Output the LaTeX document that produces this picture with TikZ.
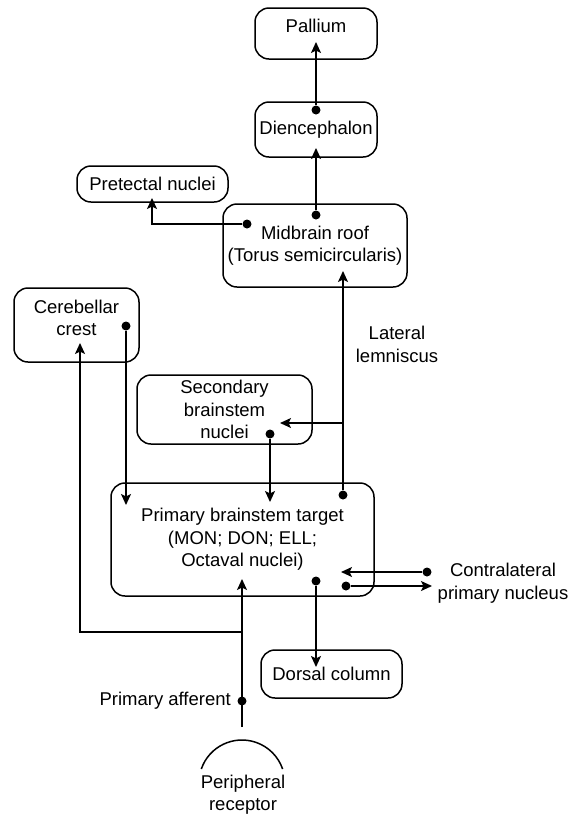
\documentclass[tikz,border=0pt]{standalone}
\usepackage{fontspec}
\setmainfont{Liberation Sans}
\usetikzlibrary{arrows.meta}
\tikzset{
  box/.style={draw, rounded corners=14pt, line width=1.5pt, align=center, inner sep=2pt},
  dot/.style={circle, fill, inner sep=0pt, minimum size=9pt},
  conn/.style={line width=1.6pt, -{Stealth[length=11pt,width=10pt,inset=2.5pt]}},
  lbl/.style={align=center, inner sep=0pt}
}
\begin{document}
\begin{tikzpicture}[x=1pt, y=-1pt, font=\fontsize{18.5}{22.5}\selectfont]
  \useasboundingbox (0,0) rectangle (578,815);
  \node[box, minimum width=122, minimum height=51, text depth=16pt] (pallium) at (316,33.5) {Pallium};
  \node[box, minimum width=122, minimum height=55] (dien) at (316,129.5) {Diencephalon};
  \node[box, minimum width=151, minimum height=36] (pretect) at (152.5,184) {Pretectal nuclei};
  \node[box, minimum width=184, minimum height=83] (midbrain) at (315,245.5) {Midbrain roof\\(Torus semicircularis)};
  \node[box, minimum width=125, minimum height=74, text depth=14pt] (cereb) at (76.5,325) {Cerebellar\\crest};
  \node[box, minimum width=175, minimum height=69] (second) at (224.5,409.5) {Secondary\\brainstem\\nuclei};
  \node[box, minimum width=263, minimum height=113] (primary) at (242.5,539.5) {Primary brainstem target\\(MON; DON; ELL;\\Octaval nuclei)};
  \node[box, minimum width=141, minimum height=48] (dorsal) at (331.5,674) {Dorsal column};
  \node[lbl] (lateral) at (397,344.5) {Lateral\\lemniscus};
  \node[lbl] (contra) at (503,583) {Contralateral\\primary nucleus};
  \node[lbl, anchor=east] (afferent) at (231,701) {Primary afferent};
  \node[lbl] (receptor) at (243,794.5) {Peripheral\\receptor};
  % dots
  \node[dot] (dien-o) at (316,110) {};
  \node[dot] (mid-o) at (316,215) {};
  \node[dot] (mid-l) at (247,224) {};
  \node[dot] (cereb-o) at (126,326) {};
  \node[dot] (second-o) at (270,434) {};
  \node[dot] (prim-up) at (343,495) {};
  \node[dot] (prim-down) at (316,581) {};
  \node[dot] (prim-r) at (346,586) {};
  \node[dot] (contra-o) at (427,572) {};
  \node[dot] (aff) at (242,701) {};
  % arrow ends
  \coordinate (pallium-i) at (316,42);
  \coordinate (dien-i) at (316,148);
  \coordinate (pretect-i) at (152,198);
  \coordinate (mid-i) at (343,271);
  \coordinate (lem) at (343,423);
  \coordinate (second-i) at (280,423);
  \coordinate (cereb-i) at (80,343);
  \coordinate (prim-l) at (126,505);
  \coordinate (prim-m) at (270,502);
  \coordinate (prim-i) at (242,579);
  \coordinate (prim-c) at (341,572);
  \coordinate (contra-i) at (432,586);
  \coordinate (dorsal-i) at (316,667);
  \coordinate (aff-split) at (242,632);
  \coordinate (aff-start) at (242,727);
  \coordinate (rec-l) at (201.3,769);
  \draw[conn] (dien-o) -- (pallium-i);
  \draw[conn] (mid-o) -- (dien-i);
  \draw[conn] (mid-l) -| (pretect-i);
  \draw[conn] (prim-up) -- (mid-i);
  \draw[conn] (lem) -- (second-i);
  \draw[conn] (cereb-o) -- (prim-l);
  \draw[conn] (second-o) -- (prim-m);
  \draw[conn] (aff-start) -- (prim-i);
  \draw[conn] (aff-split) -| (cereb-i);
  \draw[conn] (prim-down) -- (dorsal-i);
  \draw[conn] (contra-o) -- (prim-c);
  \draw[conn] (prim-r) -- (contra-i);
  \draw[line width=1.5pt] (rec-l) arc[start angle=199, end angle=341, radius=43];
\end{tikzpicture}
\end{document}
